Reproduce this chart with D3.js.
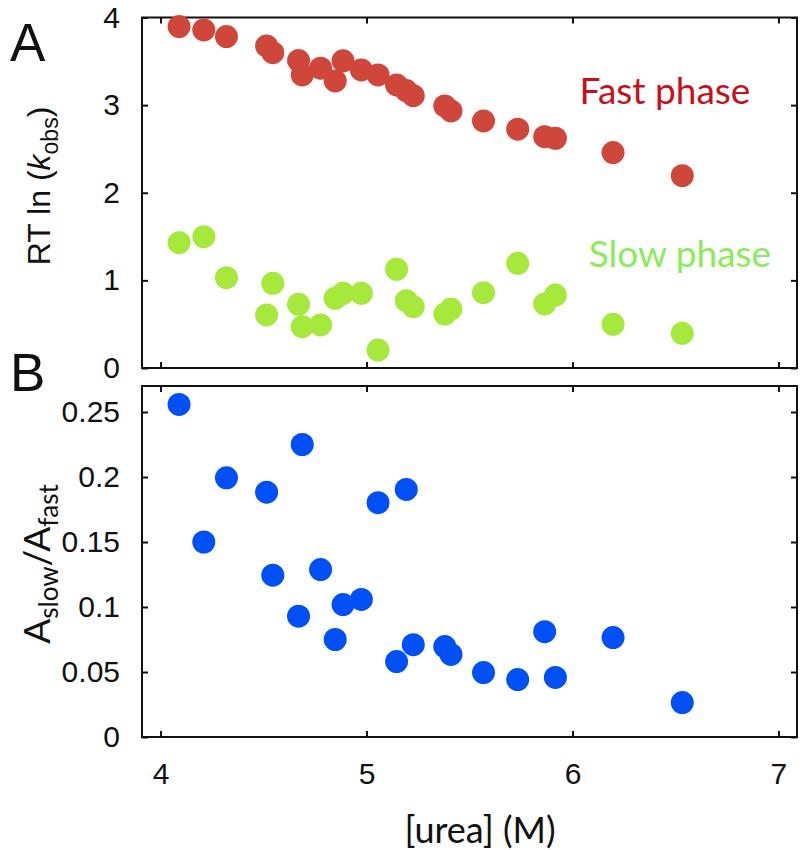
<!DOCTYPE html>
<html>
<head>
<meta charset="utf-8">
<script src="https://cdn.jsdelivr.net/npm/d3@7"></script>
<style>
  html, body { margin: 0; padding: 0; background: #fff; }
  svg { display: block; }
</style>
</head>
<body>
<svg id="chart" width="803" height="850"></svg>
<script>
// ---- Data ----
const urea = [4.09, 4.21, 4.32, 4.515, 4.545, 4.67, 4.688, 4.777, 4.848, 4.886, 4.975, 5.056, 5.146, 5.193, 5.227, 5.38, 5.41, 5.568, 5.734, 5.865, 5.917, 6.197, 6.533];
const fastPhase = [3.896, 3.858, 3.782, 3.676, 3.599, 3.508, 3.345, 3.421, 3.276, 3.505, 3.402, 3.345, 3.231, 3.166, 3.108, 2.991, 2.934, 2.820, 2.725, 2.640, 2.622, 2.458, 2.195];
const slowPhase = [1.430, 1.499, 1.031, 0.605, 0.967, 0.727, 0.472, 0.491, 0.796, 0.853, 0.853, 0.205, 1.127, 0.768, 0.700, 0.616, 0.673, 0.860, 1.195, 0.731, 0.833, 0.499, 0.396];
const ampRatio = [0.2558, 0.150, 0.1994, 0.1883, 0.1245, 0.0929, 0.225, 0.1288, 0.075, 0.1019, 0.1058, 0.1802, 0.058, 0.1904, 0.071, 0.0696, 0.0635, 0.0496, 0.0442, 0.081, 0.0458, 0.0765, 0.0265];

const xTicks = [4, 5, 6, 7];
const yTicksA = [0, 1, 2, 3, 4];
const yTicksB = [0, 0.05, 0.1, 0.15, 0.2, 0.25];
const yTickLabelsB = ["0", "0.05", "0.1", "0.15", "0.2", "0.25"];

const colFast = "#cf463a", colSlow = "#a6e83c", colRatio = "#0050f5";

// ---- Layout ----
const svg = d3.select("#chart");
const left = 142, right = 797;
const x = d3.scaleLinear().domain([3.91, 7.09]).range([left, right]);
const yA = d3.scaleLinear().domain([0, 4]).range([368, 17.5]);
const yB = d3.scaleLinear().domain([0, 0.27]).range([737, 386]);

const tickFont = "'Liberation Sans', Arial, Helvetica, sans-serif";
const r = 11.5;

function panel(y, yTicks, yFmt, showXLabels) {
  const g = svg.append("g");
  const [yb, yt] = y.range();
  // frame
  g.append("rect").attr("x", left).attr("y", yt).attr("width", right - left).attr("height", yb - yt)
    .attr("fill", "none").attr("stroke", "#111").attr("stroke-width", 2);
  const ax = (axis, tx, ty) => {
    const a = g.append("g").attr("transform", `translate(${tx},${ty})`).call(axis);
    a.select(".domain").remove();
    a.selectAll(".tick line").attr("stroke", "#111").attr("stroke-width", 2);
    a.selectAll("text").attr("font-family", tickFont).attr("font-size", 30).attr("fill", "#111");
    return a;
  };
  ax(d3.axisLeft(y).tickValues(yTicks).tickSize(-6).tickPadding(22).tickFormat(yFmt), left, 0);
  ax(d3.axisRight(y).tickValues(yTicks).tickSize(-6).tickFormat(""), right, 0);
  ax(d3.axisTop(x).tickValues(xTicks).tickSize(-6).tickFormat(""), 0, yt);
  ax(d3.axisBottom(x).tickValues(xTicks).tickSize(-6).tickPadding(26)
      .tickFormat(showXLabels ? d3.format("d") : ""), 0, yb);
  return g;
}

const gA = panel(yA, yTicksA, d3.format("d"), false);
const gB = panel(yB, yTicksB, (d, i) => yTickLabelsB[i], true);

// points
gA.selectAll("circle.fast").data(urea).join("circle").attr("class", "fast")
  .attr("cx", d => x(d)).attr("cy", (d, i) => yA(fastPhase[i])).attr("r", r).attr("fill", colFast);
gA.selectAll("circle.slow").data(urea).join("circle").attr("class", "slow")
  .attr("cx", d => x(d)).attr("cy", (d, i) => yA(slowPhase[i])).attr("r", r).attr("fill", colSlow);
gB.selectAll("circle.ratio").data(urea).join("circle").attr("class", "ratio")
  .attr("cx", d => x(d)).attr("cy", (d, i) => yB(ampRatio[i])).attr("r", r).attr("fill", colRatio);

// annotations
const humanist = "Lato, 'Open Sans', 'Noto Sans', sans-serif";
svg.append("text").attr("x", 665).attr("y", 104).attr("text-anchor", "middle")
  .attr("font-family", humanist).attr("font-size", 37).attr("fill", "#c8101a").text("Fast phase");
svg.append("text").attr("x", 680).attr("y", 267).attr("text-anchor", "middle")
  .attr("font-family", humanist).attr("font-size", 37).attr("fill", "#8ceb5a").text("Slow phase");

// panel letters
svg.append("text").attr("x", 10).attr("y", 61).attr("font-family", tickFont).attr("font-size", 53).attr("fill", "#111").text("A");
svg.append("text").attr("x", 10).attr("y", 391).attr("font-family", tickFont).attr("font-size", 53).attr("fill", "#111").text("B");

// y titles
const tA = svg.append("text").attr("transform", "translate(50,186) rotate(-90)").attr("text-anchor", "middle")
  .attr("font-family", tickFont).attr("font-size", 32).attr("fill", "#111");
tA.append("tspan").text("RT ln (");
tA.append("tspan").attr("font-style", "italic").text("k");
tA.append("tspan").attr("font-size", 23).attr("dy", 8).text("obs");
tA.append("tspan").attr("dy", -8).text(")");

const tB = svg.append("text").attr("transform", "translate(50,564) rotate(-90)").attr("text-anchor", "middle")
  .attr("font-family", humanist).attr("font-size", 37).attr("fill", "#111");
tB.append("tspan").text("A");
tB.append("tspan").attr("font-size", 26).attr("dy", 8).text("slow");
tB.append("tspan").attr("dy", -8).text("/A");
tB.append("tspan").attr("font-size", 26).attr("dy", 8).text("fast");

// x title
svg.append("text").attr("x", 480).attr("y", 843).attr("text-anchor", "middle")
  .attr("font-family", humanist).attr("font-size", 36).attr("fill", "#111").text("[urea] (M)");
</script>
</body>
</html>
